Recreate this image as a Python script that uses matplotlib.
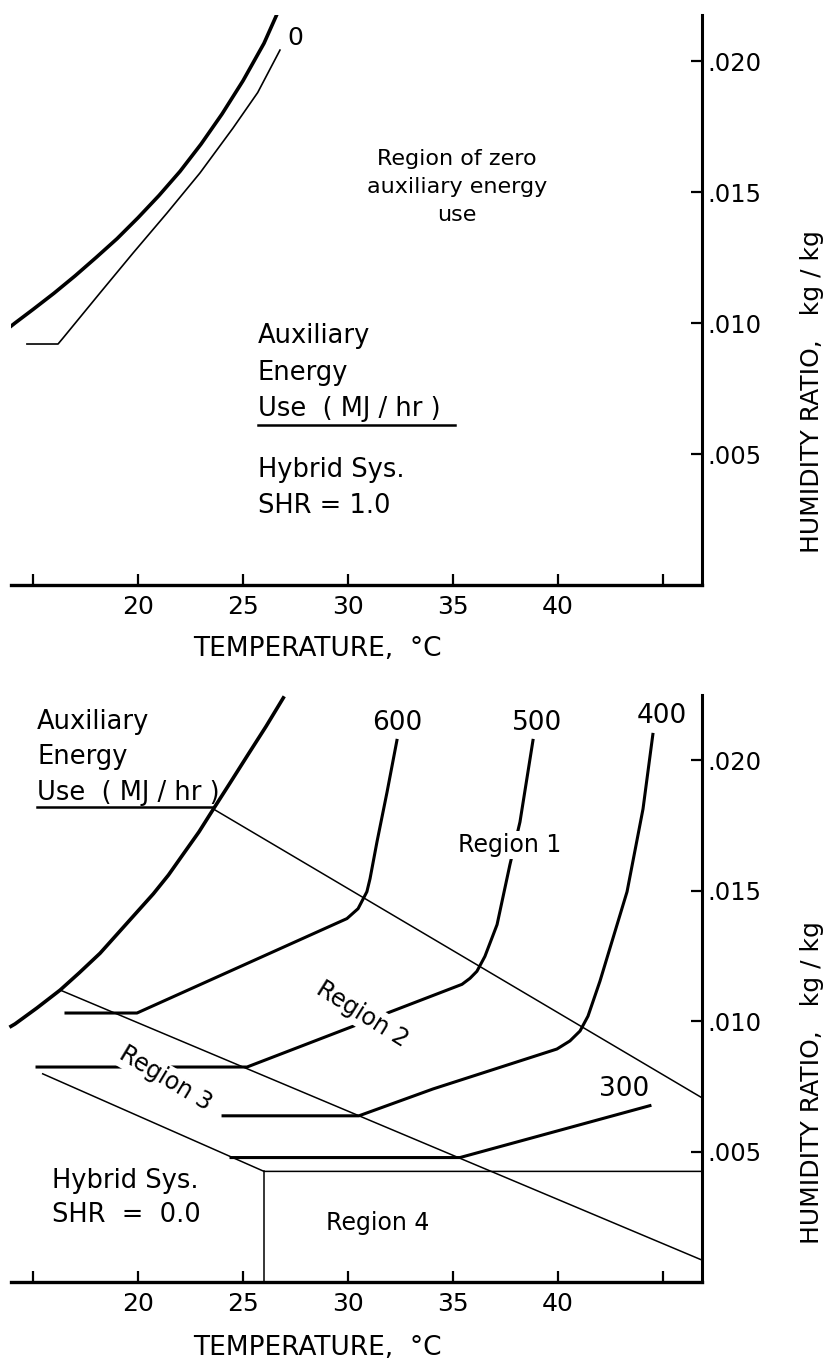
import numpy as np
import matplotlib.pyplot as plt

plt.rcParams['font.family'] = ['DejaVu Sans']

# ---- top panel (SHR = 1.0) ----
sat_top_t = [13.95, 14.14, 15.0, 16.0, 17.0, 18.0, 19.0, 20.0, 21.0, 22.0, 23.0, 24.0, 25.0, 26.0, 26.6]
sat_top_w = [0.00988, 0.0100, 0.01052, 0.01114, 0.0118, 0.0125, 0.01322, 0.01402, 0.01487,
             0.01579, 0.01683, 0.01798, 0.01925, 0.02068, 0.02176]

zero_t = [14.71, 16.19, 16.43, 18.19, 19.76, 21.38, 22.95, 24.52, 25.7, 26.76]
zero_w = [0.0092, 0.0092, 0.00943, 0.01115, 0.01267, 0.0142, 0.01573, 0.01744, 0.0188, 0.02042]

# ---- bottom panel (SHR = 0.0) ----
sat_bot_t = [13.95, 14.14, 15.18, 16.29, 17.2, 18.19, 19.46, 20.73, 21.45, 22.16, 22.9,
             23.59, 24.4, 25.25, 26.1, 26.92]
sat_bot_w = [0.0098, 0.00989, 0.0105, 0.01119, 0.01185, 0.0126, 0.01374, 0.01488, 0.0156,
             0.01641, 0.01725, 0.01813, 0.01915, 0.02023, 0.0213, 0.02239]

c600_t = [16.57, 19.95, 29.95, 30.48, 30.90, 31.05, 31.38, 31.86, 32.33]
c600_w = [0.01031, 0.01031, 0.01393, 0.01431, 0.01496, 0.01546, 0.01687, 0.01878, 0.02076]
c500_t = [15.19, 25.19, 35.43, 35.81, 36.14, 36.52, 37.1, 37.71, 38.19, 38.81]
c500_w = [0.00824, 0.00824, 0.01141, 0.01164, 0.01191, 0.01248, 0.0137, 0.01599, 0.01763, 0.02076]
c400_t = [24.05, 30.52, 34.05, 39.95, 40.57, 41.05, 41.43, 42.0, 43.29, 44.05, 44.52]
c400_w = [0.00637, 0.00637, 0.0074, 0.00893, 0.00924, 0.00962, 0.01019, 0.01153, 0.01496, 0.01813, 0.02099]
c300_t = [24.43, 35.33, 44.38]
c300_w = [0.00477, 0.00477, 0.00676]

contour_labels = ['600', '500', '400', '300']
label_t = [32.33, 39.0, 44.95, 43.14]
label_w = [0.02141, 0.02141, 0.02168, 0.0074]

# region boundaries (thin lines)
bound_a_t = [23.59, 46.86]
bound_a_w = [0.01813, 0.00706]
bound_b_t = [16.29, 46.86]
bound_b_w = [0.01119, 0.00084]
bound_c_t = [15.46, 26.0, 46.86]
bound_c_w = [0.00798, 0.00424, 0.00424]
bound_v_t = [26.0, 26.0]
bound_v_w = [0.00424, 0.0]

xticks = [15, 20, 25, 30, 35, 40, 45]
xticklabels = ['', '20', '25', '30', '35', '40', '']
yticks = [0.005, 0.010, 0.015, 0.020]
yticklabels = ['.005', '.010', '.015', '.020']

W, H = 832, 1364
fig = plt.figure(figsize=(W / 100, H / 100), dpi=100)
ax1 = fig.add_axes([11 / W, 1 - 585 / H, 691 / W, 570 / H])
ax2 = fig.add_axes([11 / W, 1 - 1282 / H, 691 / W, 587 / H])


def style(ax, ytop):
    ax.set_xlim(13.95, 46.86)
    ax.set_ylim(0, ytop)
    ax.spines['top'].set_visible(False)
    ax.spines['left'].set_visible(False)
    ax.spines['right'].set_linewidth(2.2)
    ax.spines['bottom'].set_linewidth(2.4)
    ax.yaxis.tick_right()
    ax.set_xticks(xticks)
    ax.set_xticklabels(xticklabels)
    ax.set_yticks(yticks)
    ax.set_yticklabels(yticklabels)
    ax.tick_params(axis='x', direction='in', length=8, width=1.6, labelsize=18, pad=7)
    ax.tick_params(axis='y', direction='in', length=8, width=1.6, labelsize=17.5, pad=4)
    ax.text(1.159, 0.34, 'HUMIDITY RATIO,   kg / kg', transform=ax.transAxes,
            rotation=90, ha='center', va='center', fontsize=18)
    ax.text(0.444, -0.113, 'TEMPERATURE,  \u00b0C', transform=ax.transAxes,
            ha='center', va='center', fontsize=19)


style(ax1, 0.02176)
style(ax2, 0.0225)

blk = 18.5

# top panel
ax1.plot(sat_top_t, sat_top_w, color='black', lw=2.6)
ax1.plot(zero_t, zero_w, color='black', lw=1.2)
ax1.text(27.48, 0.02088, '0', fontsize=18, ha='center', va='center')
ax1.text(35.2, 0.0152, 'Region of zero\nauxiliary energy\nuse', fontsize=16,
         ha='center', va='center', linespacing=1.5)
ax1.text(25.71, 0.0095, 'Auxiliary', fontsize=blk, va='center')
ax1.text(25.71, 0.0081, 'Energy', fontsize=blk, va='center')
ax1.text(25.71, 0.0067, 'Use  ( MJ / hr )', fontsize=blk, va='center')
ax1.plot([25.71, 35.1], [0.0061, 0.0061], color='black', lw=1.8)
ax1.text(25.71, 0.0044, 'Hybrid Sys.', fontsize=blk, va='center')
ax1.text(25.71, 0.0030, 'SHR = 1.0', fontsize=blk, va='center')

# bottom panel
ax2.plot(sat_bot_t, sat_bot_w, color='black', lw=2.6, clip_on=False)
for t, w in [(bound_a_t, bound_a_w), (bound_b_t, bound_b_w),
             (bound_c_t, bound_c_w), (bound_v_t, bound_v_w)]:
    ax2.plot(t, w, color='black', lw=1.1)
for t, w in [(c600_t, c600_w), (c500_t, c500_w), (c400_t, c400_w), (c300_t, c300_w)]:
    ax2.plot(t, w, color='black', lw=2.2)
for lab, t, w in zip(contour_labels, label_t, label_w):
    ax2.text(t, w, lab, fontsize=19, ha='center', va='center')

box = dict(facecolor='white', edgecolor='none', pad=1.5)
ax2.text(37.71, 0.01676, 'Region 1', fontsize=17, ha='center', va='center', bbox=box)
ax2.text(30.67, 0.01027, 'Region 2', fontsize=17, ha='center', va='center',
         rotation=-32, rotation_mode='anchor', bbox=box)
ax2.text(21.33, 0.00779, 'Region 3', fontsize=17, ha='center', va='center',
         rotation=-31, rotation_mode='anchor', bbox=box)
ax2.text(31.43, 0.00225, 'Region 4', fontsize=17, ha='center', va='center')
ax2.text(19.38, 0.00389, 'Hybrid Sys.', fontsize=blk, ha='center', va='center')
ax2.text(19.45, 0.00256, 'SHR  =  0.0', fontsize=blk, ha='center', va='center')

ax2.text(15.19, 0.02145, 'Auxiliary', fontsize=blk, va='center')
ax2.text(15.19, 0.02012, 'Energy', fontsize=blk, va='center')
ax2.text(15.19, 0.01874, 'Use  ( MJ / hr )', fontsize=blk, va='center')
ax2.plot([15.19, 23.59], [0.0182, 0.0182], color='black', lw=1.8)

fig.savefig('out.png', dpi=100)
